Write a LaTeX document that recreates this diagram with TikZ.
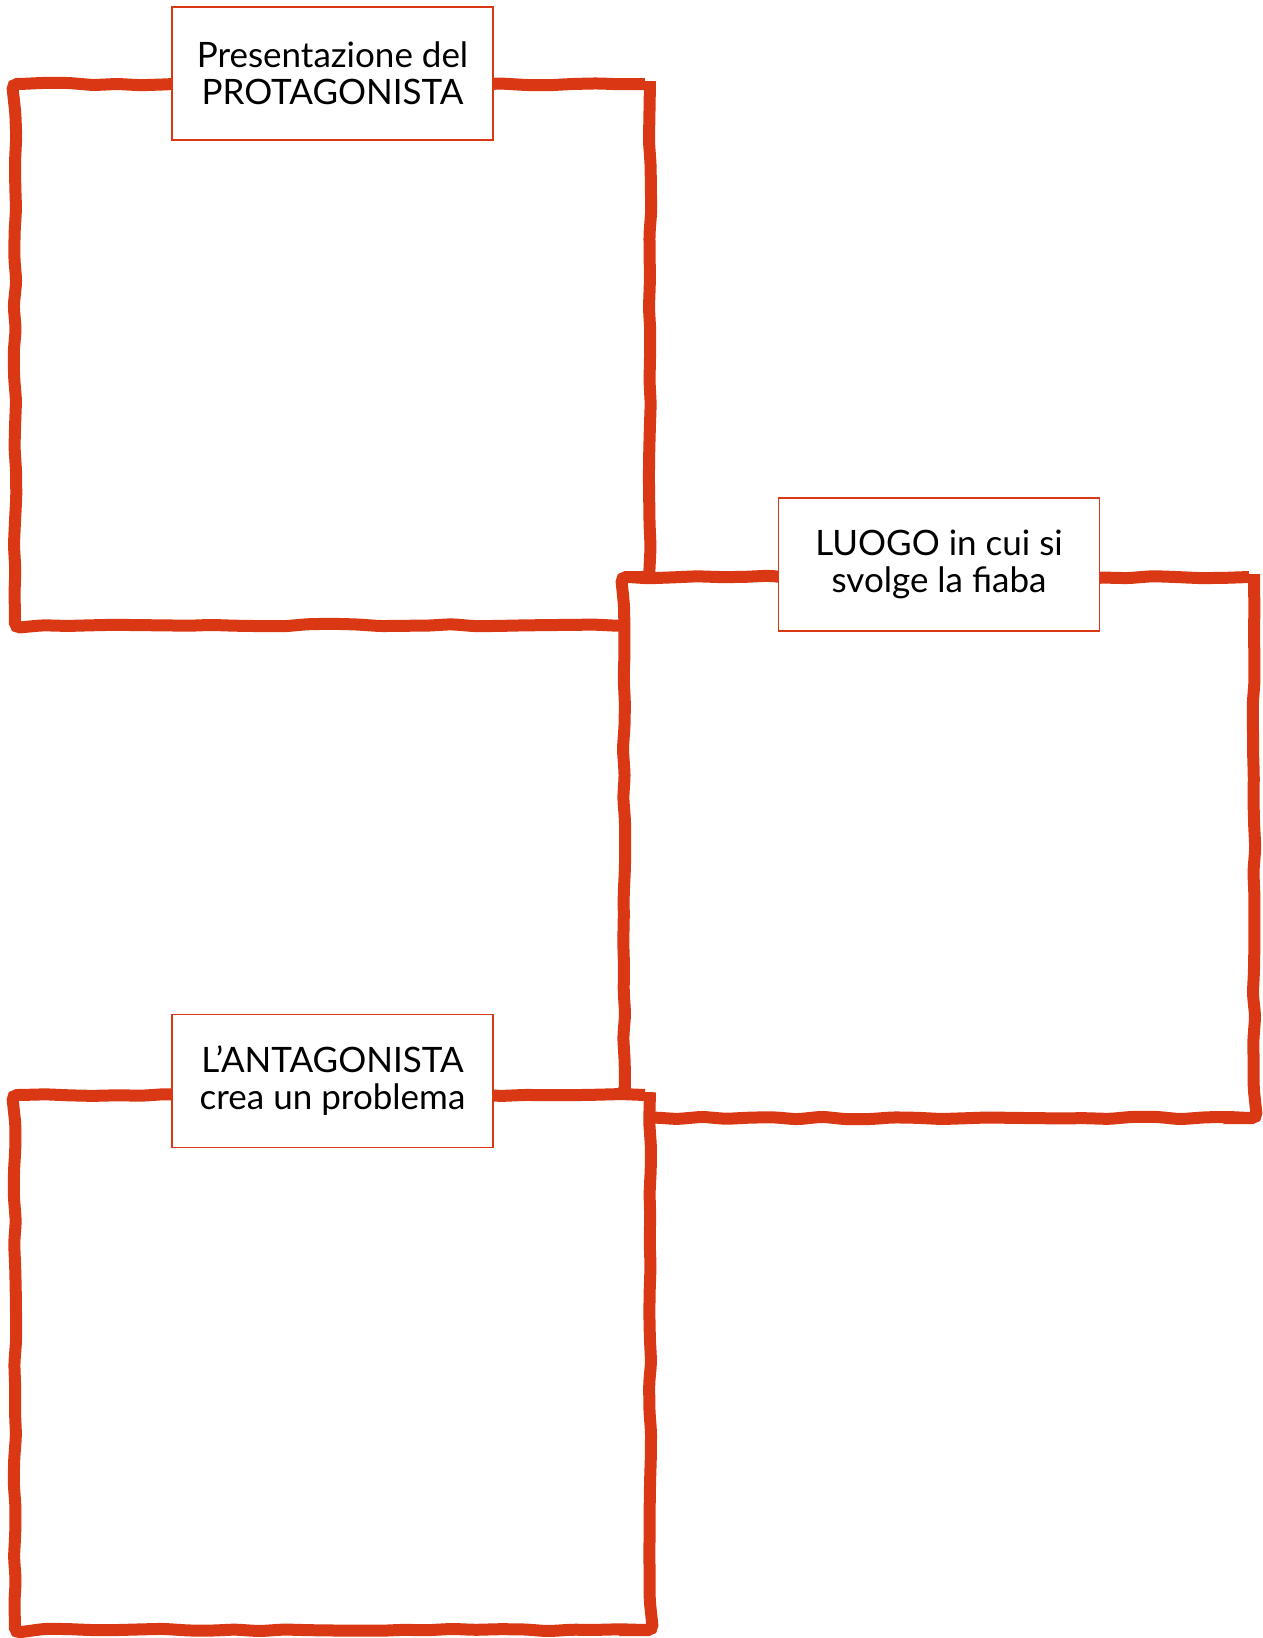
\documentclass[tikz,border=0pt]{standalone}
\usepackage{fontspec}
\setmainfont{Lato}
\usetikzlibrary{positioning,decorations.pathmorphing}
\definecolor{fiabared}{RGB}{218,56,20}
\tikzset{
  frame/.style={draw=fiabared,fill=white,line width=12pt,rounded corners=5pt,inner sep=0pt,outer sep=0pt,
    decorate,decoration={random steps,segment length=24pt,amplitude=1.3pt}},
  lab/.style={draw=fiabared,line width=1.4pt,fill=white,minimum width=321pt,minimum height=133pt,
    align=center,inner sep=0pt,font=\fontsize{35}{37}\selectfont},
  every picture/.style={x=1pt,y=-1pt}
}
\begin{document}
\begin{tikzpicture}
  \pgfmathsetseed{7}
  \useasboundingbox (0,0) rectangle (1263,1638);
  \node[frame,minimum width=635pt,minimum height=541pt] (prot) at (332.5,354.5) {};
  \node[frame,minimum width=630pt,minimum height=541pt] (luogo) at (939,847.5) {};
  \node[frame,minimum width=635pt,minimum height=535pt] (anta) at (332.5,1362.5) {};
  \node[lab] (lprot) at ([yshift=10.5pt]prot.north) {Presentazione del\\PROTAGONISTA};
  \node[lab] (lluogo) at ([yshift=12.5pt]luogo.north) {LUOGO in cui si\\svolge la fiaba};
  \node[lab] (lanta) at ([yshift=14pt]anta.north) {L’ANTAGONISTA\\crea un problema};
\end{tikzpicture}
\end{document}
